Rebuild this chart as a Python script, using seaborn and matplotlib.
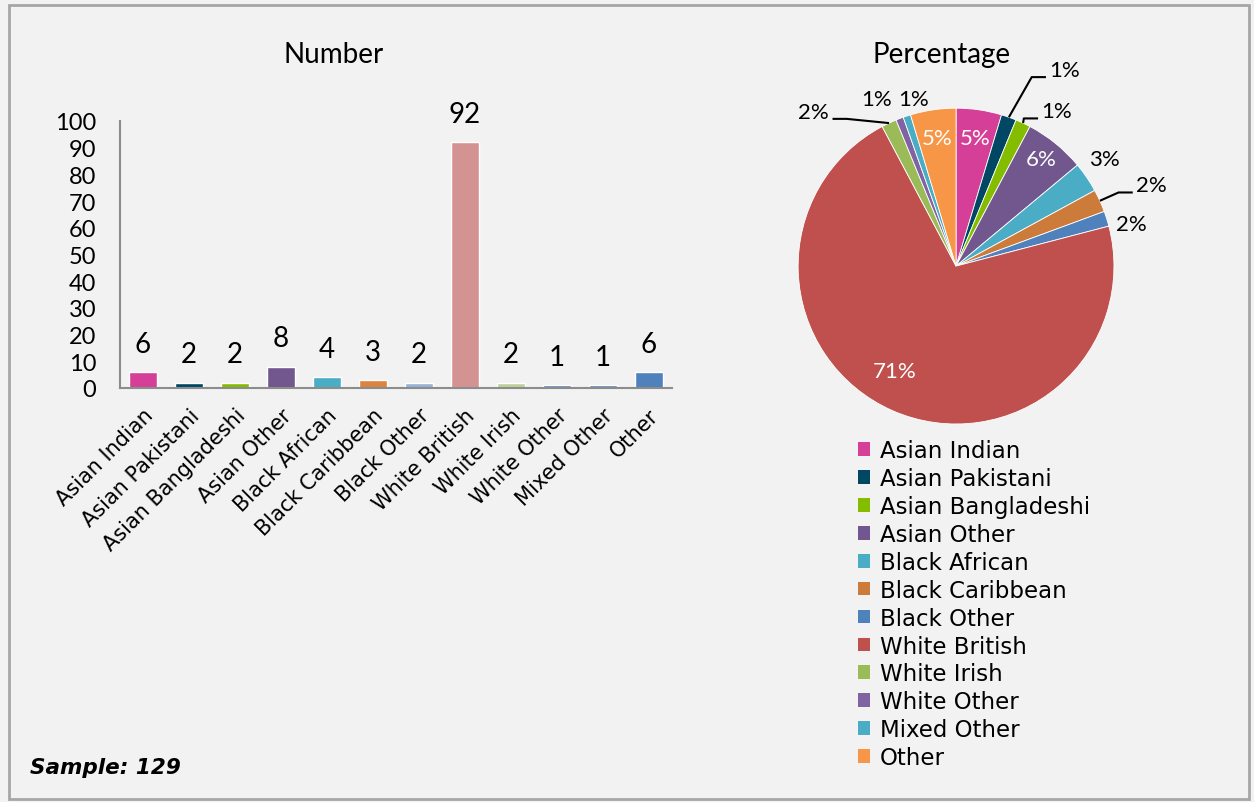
import numpy as np
import pandas as pd
import matplotlib
matplotlib.use("Agg")
import matplotlib.pyplot as plt
from matplotlib.patches import Rectangle, Patch
import seaborn as sns

categories = ["Asian Indian", "Asian Pakistani", "Asian Bangladeshi", "Asian Other",
              "Black African", "Black Caribbean", "Black Other", "White British",
              "White Irish", "White Other", "Mixed Other", "Other"]
counts = [6, 2, 2, 8, 4, 3, 2, 92, 2, 1, 1, 6]
pct_labels = ["5%", "1%", "1%", "6%", "3%", "2%", "2%", "71%", "2%", "1%", "1%", "5%"]
yticks = [0, 10, 20, 30, 40, 50, 60, 70, 80, 90, 100]
sample_size = 129

bar_colors = ["#D63F97", "#004763", "#84BD00", "#72578F", "#4BACC6", "#DD8340",
              "#95B3D7", "#D49393", "#BCD29A", "#5C82C0", "#5C82C0", "#4F81BD"]
pie_colors = ["#D63F97", "#004763", "#84BD00", "#72578F", "#4BACC6", "#CD7B3A",
              "#4F81BD", "#C0504D", "#9BBB59", "#8064A2", "#4BACC6", "#F79646"]
# label layout: (radius factor, angle tweak in degrees, leader line, inside/white)
label_layout = [(0.82, 0, False, True), (1.42, -9.5, True, False), (1.17, -8, True, False),
                (0.865, 0.5, False, True), (1.16, 1.5, False, False), (1.34, -2, True, False),
                (1.14, -4, False, False), (0.77, -6.5, False, True), (1.33, 17.6, True, False),
                (1.17, 4.4, False, False), (1.09, -4, False, False), (0.82, 0, False, True)]

sns.set_style("white")
BG = "#F2F2F2"
plt.rcParams['font.family'] = ['DejaVu Sans']
plt.rcParams['text.color'] = 'black'
plt.rcParams['xtick.color'] = 'black'
plt.rcParams['ytick.color'] = 'black'
plt.rcParams['figure.facecolor'] = BG
plt.rcParams['axes.facecolor'] = BG
NUMFONT = ['Lato', 'DejaVu Sans']

fig = plt.figure(figsize=(12.54, 8.03), dpi=100)
fig.patch.set_facecolor(BG)

# ---- Bar chart
ax = fig.add_axes([0.0957, 0.5156, 0.4400, 0.3325])
df = pd.DataFrame({"cat": categories, "n": counts})
sns.barplot(data=df, x="cat", y="n", hue="cat", palette=bar_colors, width=0.6,
            legend=False, ax=ax, saturation=1)
ax.set_ylim(0, 100)
ax.set_xlim(-0.5, 11.5)
ax.set_yticks(yticks)
ax.set_yticklabels([str(t) for t in yticks], fontsize=17, family=NUMFONT)
ax.set_xlabel("")
ax.set_ylabel("")
ax.set_xticks(range(len(categories)))
ax.set_xticklabels(categories, rotation=45, ha="right", va="top",
                   rotation_mode="anchor", fontsize=15)
ax.tick_params(axis="x", length=0, pad=12)
ax.tick_params(axis="y", length=0, pad=17)
for s in ["top", "right"]:
    ax.spines[s].set_visible(False)
for s in ["left", "bottom"]:
    ax.spines[s].set_color("#8C8C8C")
    ax.spines[s].set_linewidth(1.5)
for i, v in enumerate(counts):
    ax.annotate(str(v), (i, v), xytext=(0, 11), textcoords="offset points",
                ha="center", va="bottom", fontsize=20, family=NUMFONT)
fig.text(0.266, 0.931, "Number", ha="center", va="center", fontsize=20, family=NUMFONT)

# ---- Pie chart
pax = fig.add_axes([0.5734, 0.3724, 0.378, 0.590])
wedges, _ = pax.pie(counts, colors=pie_colors, startangle=90, counterclock=False,
                    wedgeprops=dict(edgecolor="white", linewidth=0.6))
pax.set_xlim(-1.5, 1.5)
pax.set_ylim(-1.5, 1.5)
pax.set_aspect("equal")
pax.axis("off")
for w, lab, (rf, dth, leader, inside) in zip(wedges, pct_labels, label_layout):
    mid = np.deg2rad((w.theta1 + w.theta2) / 2)
    ang = mid + np.deg2rad(dth)
    tx, ty = rf * np.cos(ang), rf * np.sin(ang)
    pax.text(tx, ty, lab, ha="center", va="center", fontsize=16, family=NUMFONT,
             color="white" if inside else "black")
    if leader:
        ex, ey = 1.0 * np.cos(mid), 1.0 * np.sin(mid)
        sgn = 1 if tx > 0 else -1
        ly = ty - 0.045
        pax.plot([ex, tx - sgn * 0.21, tx - sgn * 0.12], [ey, ly, ly],
                 color="black", lw=1.5, solid_capstyle="butt")
fig.text(0.751, 0.931, "Percentage", ha="center", va="center", fontsize=20, family=NUMFONT)

# legend
handles = [Patch(facecolor=c, edgecolor="none") for c in pie_colors]
fig.legend(handles, categories, loc="upper left", bbox_to_anchor=(0.684, 0.452),
           frameon=False, fontsize=16.5, handlelength=0.55, handleheight=0.55,
           handletextpad=0.4, labelspacing=0.215, borderaxespad=0, borderpad=0)

fig.text(0.024, 0.044, f"Sample: {sample_size}", ha="left", va="center",
         fontsize=15.5, fontweight="bold", fontstyle="italic")

fig.patches.append(Rectangle((0.007, 0.004), 0.989, 0.988, transform=fig.transFigure,
                             fill=False, edgecolor="#A6A6A6", linewidth=2))

fig.savefig("out.png", dpi=100, facecolor=BG)
